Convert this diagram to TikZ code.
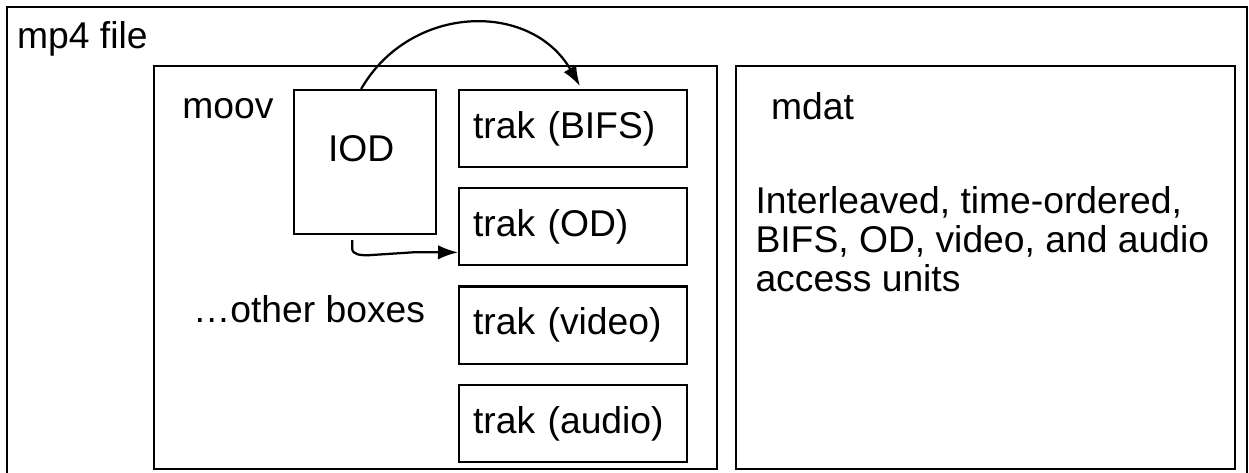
\documentclass[tikz,border=0pt]{standalone}
\usepackage{fontspec}
\setmainfont{Liberation Sans}
\usetikzlibrary{positioning,arrows.meta}
\tikzset{
	trakbox/.style={draw,minimum height=1.925cm,text width=5.0cm,inner xsep=0.35cm,inner ysep=0pt,align=left},
	lbl/.style={anchor=base west,inner sep=0pt},
	arr/.style={-{Latex[length=0.5cm,width=0.36cm]}}
}
\begin{document}
\begin{tikzpicture}[line width=1.6pt,font=\fontsize{26.5}{27.7}\selectfont]
	\useasboundingbox (0,0) rectangle (31.225,11.8);
	%containers
	\draw (0.18,-0.5) rectangle (31.17,11.62); %mp4 file
	\draw (3.85,0.075) rectangle (17.925,10.15); %moov
	\draw (18.4,0.075) rectangle (30.875,10.15); %mdat
	\node[draw,minimum width=3.55cm,minimum height=3.6cm,anchor=north west,inner sep=0pt] (iod) at (7.325,9.575) {}; %IOD box

	%trak boxes
	\node[trakbox,anchor=north west] (bifs) at (11.45,9.575) {trak (BIFS)};
	\node[trakbox,below=0.475cm of bifs] (od) {trak (OD)};
	\node[trakbox,below=0.475cm of od] (video) {trak (video)};
	\node[trakbox,below=0.475cm of video] (audio) {trak (audio)};

	%labels
	\node[lbl] (file) at (0.4,10.575) {mp4 file};
	\node[lbl] (moov) at (4.53,8.825) {moov};
	\node[anchor=base,inner sep=0pt] (iodlbl) at ([xshift=-0.1cm,yshift=-1.825cm]iod.north) {IOD};
	\node[lbl] (other) at (4.8,3.725) {…other boxes};
	\node[lbl] (mdat) at (19.25,8.8) {mdat};
	\node[anchor=north west,inner sep=0pt,align=left] (units) at (18.86,7.17) {Interleaved, time-ordered,\\BIFS, OD, video, and audio\\access units};

	%arrows
	\draw[arr] ([xshift=-0.1cm]iod.north) to[out=60,in=120,looseness=1.15] ([xshift=3.05cm,yshift=0.075cm]bifs.north west); %IOD to BIFS
	\draw[arr] ([xshift=-0.325cm,yshift=-0.125cm]iod.south) -- ++(0,-0.2) to[out=-90,in=180] ++(0.4,-0.175) -- ++(1.15,0.075) -- ([yshift=-0.6375cm]od.west); %IOD to OD
\end{tikzpicture}
\end{document}
